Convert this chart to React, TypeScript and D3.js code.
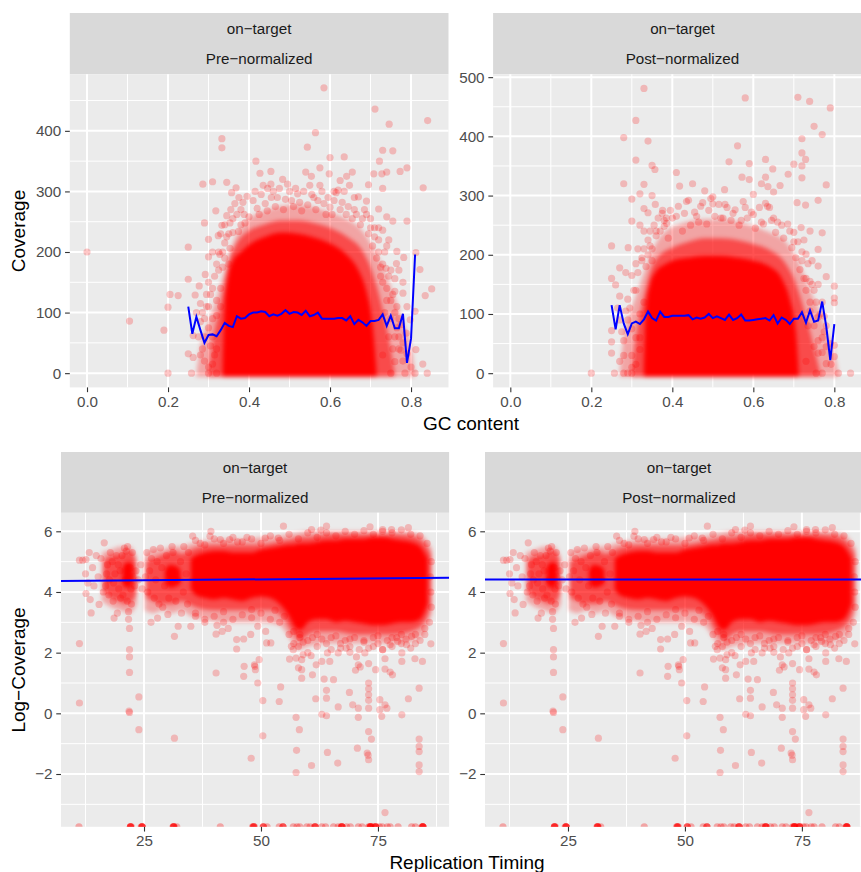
import React, { useEffect, useRef } from 'react';
import * as d3 from 'd3';

// ---------- data ----------

const gcTicks = [0, 0.2, 0.4, 0.6, 0.8];
const gcMinor = [0.1, 0.3, 0.5, 0.7];
const covTicksPre = [0, 100, 200, 300, 400];
const covTicksPost = [0, 100, 200, 300, 400, 500];
const covMinor = [50, 150, 250, 350, 450];
const rtTicks = [25, 50, 75];
const rtMinor = [12.5, 37.5, 62.5, 87.5];
const logTicks = [-2, 0, 2, 4, 6];
const logMinor = [-3, -1, 1, 3, 5];

// binned mean coverage (blue line) per GC bin
const gcBins = [0.25, 0.26, 0.27, 0.28, 0.29, 0.30, 0.31, 0.32, 0.33, 0.34, 0.35, 0.36, 0.37, 0.38, 0.39, 0.40, 0.41, 0.42, 0.43, 0.44, 0.45, 0.46, 0.47, 0.48, 0.49, 0.50, 0.51, 0.52, 0.53, 0.54, 0.55, 0.56, 0.57, 0.58, 0.59, 0.60, 0.61, 0.62, 0.63, 0.64, 0.65, 0.66, 0.67, 0.68, 0.69, 0.70, 0.71, 0.72, 0.73, 0.74, 0.75, 0.76, 0.77, 0.78, 0.79, 0.80, 0.81];
const meanPre = [110, 65, 93, 71, 50, 63, 64, 61, 71, 83, 78, 76, 94, 90, 91, 97, 100, 100, 102, 101, 94, 97, 95, 98, 104, 98, 101, 100, 96, 103, 94, 96, 100, 90, 90, 90, 90, 91, 91, 87, 94, 81, 88, 84, 78, 86, 86, 88, 97, 78, 95, 74, 74, 98, 17, 57, 196];
const meanPost = [115, 74, 115, 84, 66, 84, 87, 83, 91, 104, 93, 89, 104, 95, 95, 97, 97, 97, 97, 98, 91, 94, 92, 94, 100, 93, 96, 93, 90, 99, 90, 93, 99, 89, 89, 90, 91, 92, 93, 89, 98, 84, 94, 90, 83, 92, 92, 103, 85, 106, 87, 89, 121, 79, 22, 83];

// dense (overplotted) region of the GC clouds: upper edges per GC value
const preOuterGc = [0.27, 0.28, 0.30, 0.32, 0.34, 0.36, 0.38, 0.40, 0.44, 0.48, 0.52, 0.56, 0.60, 0.64, 0.68, 0.70, 0.72, 0.74, 0.76, 0.78, 0.80, 0.81];
const preOuterHi = [0, 45, 85, 125, 170, 215, 240, 255, 268, 276, 278, 274, 265, 255, 235, 215, 190, 160, 125, 85, 45, 0];
const preMidGc = [0.30, 0.31, 0.33, 0.35, 0.37, 0.40, 0.44, 0.48, 0.52, 0.56, 0.60, 0.64, 0.68, 0.70, 0.72, 0.74, 0.76];
const preMidHi = [0, 50, 115, 185, 215, 235, 246, 252, 252, 248, 240, 226, 202, 175, 132, 75, 0];
const preCoreGc = [0.335, 0.34, 0.35, 0.36, 0.38, 0.40, 0.44, 0.48, 0.52, 0.56, 0.60, 0.64, 0.67, 0.69, 0.705, 0.715];
const preCoreHi = [0, 110, 165, 185, 200, 212, 225, 232, 230, 224, 214, 196, 170, 135, 80, 0];

const postOuterGc = [0.27, 0.28, 0.30, 0.32, 0.34, 0.36, 0.38, 0.42, 0.48, 0.52, 0.56, 0.60, 0.64, 0.68, 0.70, 0.72, 0.74, 0.76, 0.78, 0.80, 0.81];
const postOuterHi = [0, 60, 110, 150, 190, 220, 238, 252, 260, 260, 256, 248, 238, 222, 202, 175, 140, 110, 72, 35, 0];
const postMidGc = [0.30, 0.31, 0.33, 0.35, 0.37, 0.40, 0.44, 0.48, 0.52, 0.56, 0.60, 0.64, 0.68, 0.70, 0.72, 0.74, 0.765];
const postMidHi = [0, 60, 130, 180, 200, 212, 222, 228, 228, 225, 218, 208, 185, 160, 120, 70, 0];
const postCoreGc = [0.33, 0.335, 0.345, 0.36, 0.38, 0.40, 0.44, 0.48, 0.52, 0.56, 0.60, 0.64, 0.67, 0.69, 0.705, 0.712];
const postCoreHi = [0, 110, 150, 172, 183, 190, 195, 198, 198, 195, 190, 180, 160, 125, 70, 0];

// individual windows around the dense region [gc, coverage]
const prePoints: [number, number][] = [
  [0.0, 200], [0.105, 86], [0.19, 71], [0.2, 0], [0.2, 109], [0.205, 130], [0.225, 128], [0.25, 208], [0.25, 155], [0.25, 32],
  [0.258, 0], [0.262, 62], [0.262, 26], [0.267, 129], [0.277, 144], [0.286, 312], [0.29, 248], [0.292, 163], [0.3, 221], [0.3, 192],
  [0.3, 0], [0.31, 316], [0.318, 268], [0.32, 0], [0.324, 227], [0.333, 387], [0.333, 372], [0.333, 244], [0.328, 196], [0.345, 315],
  [0.357, 298], [0.368, 306], [0.353, 248], [0.353, 206], [0.374, 234], [0.388, 262], [0.417, 350], [0.427, 330], [0.454, 333], [0.446, 305],
  [0.483, 320], [0.454, 312], [0.544, 373], [0.564, 397], [0.585, 471], [0.54, 332], [0.554, 325], [0.575, 339], [0.6, 356], [0.598, 329],
  [0.635, 357], [0.641, 325], [0.655, 332], [0.625, 318], [0.648, 310], [0.61, 300], [0.67, 291], [0.69, 284], [0.711, 436], [0.73, 368],
  [0.722, 350], [0.708, 329], [0.695, 311], [0.728, 329], [0.74, 332], [0.73, 305], [0.755, 367], [0.746, 411], [0.773, 333], [0.79, 339],
  [0.841, 417], [0.83, 306], [0.72, 271], [0.74, 258], [0.755, 251], [0.79, 251], [0.73, 236], [0.745, 220], [0.765, 201], [0.782, 191],
  [0.764, 181], [0.738, 173], [0.812, 199], [0.822, 171], [0.851, 139], [0.835, 128], [0.81, 102], [0.812, 39], [0.829, 15], [0.84, 0],
  [0.81, 0], [0.79, 32], [0.775, 38], [0.76, 19], [0.785, 0], [0.76, 156], [0.78, 132], [0.798, 88], [0.788, 66],
  [0.42, 272], [0.44, 280], [0.47, 290], [0.5, 300], [0.52, 296], [0.55, 310], [0.57, 285], [0.62, 302], [0.63, 282], [0.66, 290],
  [0.46, 300], [0.49, 287], [0.58, 300], [0.6, 274], [0.64, 262], [0.665, 262], [0.4, 258], [0.43, 295], [0.51, 275], [0.53, 268],
  [0.56, 290], [0.59, 262], [0.61, 285], [0.38, 245], [0.36, 232], [0.68, 255], [0.7, 240], [0.71, 225], [0.69, 262],
  [0.27, 100], [0.28, 85], [0.285, 40], [0.29, 20], [0.3, 110], [0.31, 90], [0.31, 140], [0.32, 120], [0.315, 30], [0.325, 170],
  [0.33, 140], [0.3, 150], [0.28, 115], [0.29, 60], [0.305, 45], [0.295, 130], [0.32, 180], [0.335, 200], [0.34, 215], [0.31, 200],
  [0.72, 200], [0.73, 180], [0.74, 140], [0.75, 120], [0.76, 100], [0.77, 60], [0.735, 100], [0.745, 60], [0.755, 40], [0.72, 240],
  [0.75, 170], [0.78, 150], [0.79, 110], [0.77, 90], [0.765, 75], [0.78, 20], [0.8, 10], [0.75, 0], [0.73, 30], [0.76, 135],
  [0.77, 170], [0.725, 160], [0.74, 210],
  [0.33, 230], [0.34, 245], [0.345, 260], [0.35, 230], [0.355, 270], [0.36, 255], [0.365, 280], [0.37, 262], [0.375, 290], [0.38, 270],
  [0.385, 282], [0.39, 248], [0.395, 292], [0.41, 285], [0.415, 300], [0.425, 262], [0.435, 310], [0.445, 268], [0.455, 290], [0.465, 275],
  [0.475, 305], [0.485, 270], [0.495, 312], [0.505, 285], [0.515, 305], [0.525, 282], [0.535, 300], [0.545, 278], [0.555, 295], [0.565, 270],
  [0.575, 310], [0.585, 280], [0.595, 290], [0.605, 262], [0.615, 298], [0.625, 270], [0.635, 300], [0.645, 275], [0.655, 255], [0.66, 270],
  [0.675, 245], [0.685, 270], [0.695, 230], [0.7, 255], [0.705, 210], [0.71, 240], [0.715, 190], [0.72, 220], [0.725, 175], [0.73, 150],
  [0.735, 200], [0.74, 120], [0.745, 160], [0.75, 90], [0.755, 130], [0.76, 60], [0.765, 110], [0.77, 40], [0.775, 80], [0.78, 50],
  [0.29, 90], [0.295, 110], [0.3, 75], [0.305, 130], [0.31, 60], [0.315, 160], [0.32, 95], [0.325, 200], [0.33, 110], [0.335, 175],
  [0.34, 190], [0.345, 225], [0.35, 180], [0.28, 30], [0.275, 60], [0.285, 100], [0.3, 10], [0.31, 15], [0.32, 40],
];

const postPoints: [number, number][] = [
  [0.2, 0], [0.25, 215], [0.25, 160], [0.25, 53], [0.25, 34], [0.25, 72], [0.257, 0], [0.26, 149], [0.27, 178], [0.27, 130],
  [0.28, 0], [0.28, 398], [0.28, 320], [0.291, 212], [0.31, 427], [0.31, 360], [0.32, 303], [0.3, 294], [0.33, 481], [0.33, 319],
  [0.34, 392], [0.35, 351], [0.357, 344], [0.35, 300], [0.33, 278], [0.30, 257], [0.34, 271], [0.358, 285], [0.376, 275], [0.386, 253],
  [0.41, 339], [0.418, 316], [0.45, 320], [0.44, 292], [0.48, 308], [0.5, 298], [0.5, 286], [0.529, 310], [0.54, 357], [0.561, 384],
  [0.58, 465], [0.572, 331], [0.59, 354], [0.59, 327], [0.6, 302], [0.62, 320], [0.63, 361], [0.648, 345], [0.63, 331], [0.636, 315],
  [0.63, 287], [0.65, 306], [0.666, 317], [0.686, 336], [0.7, 353], [0.71, 466], [0.739, 459], [0.72, 396], [0.72, 372], [0.729, 361],
  [0.72, 350], [0.72, 330], [0.708, 288], [0.729, 284], [0.75, 417], [0.77, 403], [0.79, 448], [0.78, 318], [0.76, 292], [0.74, 240],
  [0.77, 237], [0.76, 209], [0.718, 246], [0.73, 201], [0.8, 147], [0.8, 127], [0.8, 119], [0.8, 47], [0.8, 28], [0.792, 15],
  [0.81, 0], [0.84, 0], [0.78, 16], [0.76, 34], [0.775, 96], [0.78, 163], [0.76, 181], [0.74, 155],
  [0.265, 110], [0.27, 90], [0.28, 55], [0.29, 125], [0.3, 165], [0.3, 30], [0.31, 185], [0.31, 140], [0.32, 60], [0.315, 210],
  [0.33, 240], [0.325, 195], [0.29, 0], [0.3, 0], [0.27, 20], [0.285, 170], [0.32, 250],
  [0.4, 262], [0.43, 270], [0.46, 265], [0.49, 275], [0.52, 262], [0.55, 270], [0.57, 258], [0.6, 268], [0.62, 255], [0.65, 262],
  [0.67, 250], [0.69, 240], [0.7, 222], [0.36, 240], [0.38, 258], [0.47, 282], [0.53, 285], [0.58, 280], [0.64, 280],
  [0.72, 190], [0.73, 160], [0.74, 120], [0.75, 140], [0.76, 95], [0.77, 60], [0.735, 80], [0.75, 45], [0.73, 20], [0.77, 120],
  [0.78, 80], [0.79, 50], [0.755, 0], [0.77, 0], [0.725, 225], [0.745, 190], [0.76, 150],
  [0.33, 210], [0.34, 225], [0.345, 240], [0.35, 210], [0.355, 250], [0.36, 232], [0.365, 262], [0.37, 240], [0.375, 270], [0.38, 248],
  [0.385, 262], [0.39, 228], [0.395, 275], [0.41, 265], [0.415, 282], [0.425, 240], [0.435, 290], [0.445, 250], [0.455, 272], [0.465, 255],
  [0.475, 288], [0.485, 252], [0.495, 295], [0.505, 265], [0.515, 285], [0.525, 262], [0.535, 280], [0.545, 258], [0.555, 276], [0.565, 250],
  [0.575, 290], [0.585, 262], [0.595, 272], [0.605, 245], [0.615, 280], [0.625, 252], [0.635, 282], [0.645, 258], [0.655, 238], [0.66, 255],
  [0.675, 228], [0.685, 252], [0.695, 212], [0.7, 238], [0.705, 195], [0.71, 222], [0.715, 175], [0.72, 205], [0.725, 160], [0.73, 140],
  [0.735, 185], [0.74, 105], [0.745, 150], [0.75, 80], [0.755, 120], [0.76, 55], [0.765, 100], [0.77, 35], [0.775, 70], [0.78, 45],
  [0.29, 90], [0.295, 110], [0.3, 75], [0.305, 140], [0.31, 60], [0.315, 170], [0.32, 100], [0.325, 190], [0.33, 120], [0.335, 180],
  [0.34, 200], [0.345, 215], [0.35, 190], [0.28, 30], [0.275, 70], [0.285, 105], [0.3, 10], [0.31, 15], [0.32, 40],
];

// dense band of log-coverage vs replication timing (null = gap)
const coreRt = [20.4, 21, 22, 22.7, 26, 29.5, 30.5, 32, 32.8, 34, 35, 36, 38, 40, 42, 44, 46, 48, 50, 52, 54, 56, 57, 58, 59, 60, 62, 64, 66, 68, 70, 72, 74, 76, 78, 80, 82, 84, 85.6];
const coreLo = [4.3, 4.15, 4.15, 4.3, null, 4.3, 4.15, 4.2, 4.3, null, 4.1, 3.9, 3.8, 3.75, 3.8, 3.75, 3.7, 3.8, 3.85, 3.8, 3.6, 3.2, 2.9, 2.75, 2.8, 3.0, 3.1, 3.1, 3.0, 3.05, 3.0, 2.95, 2.9, 2.9, 2.95, 3.0, 3.0, 3.1, 3.6];
const coreHi = [4.8, 4.95, 5.0, 4.8, null, 4.75, 4.9, 4.85, 4.7, null, 5.1, 5.2, 5.3, 5.35, 5.35, 5.3, 5.3, 5.3, 5.4, 5.45, 5.5, 5.55, 5.55, 5.6, 5.6, 5.6, 5.65, 5.7, 5.7, 5.75, 5.75, 5.75, 5.8, 5.8, 5.75, 5.7, 5.65, 5.5, 5.1];
const midRt = [16.3, 18, 19.5, 21, 22.5, 23.4, 24.5, 25.4, 27, 28.5, 30, 31.5, 33, 34.5, 36, 40, 44, 48, 52, 55, 57, 58.5, 60, 62, 66, 70, 74, 78, 82, 85, 86.4];
const midLo = [4.1, 3.8, 3.7, 3.6, 3.7, 4.0, null, 3.8, 3.7, 3.6, 3.6, 3.6, 3.7, 3.6, 3.5, 3.4, 3.4, 3.4, 3.4, 3.1, 2.6, 2.4, 2.6, 2.7, 2.7, 2.6, 2.6, 2.6, 2.7, 3.0, 3.6];
const midHi = [5.0, 5.2, 5.2, 5.35, 5.3, 4.9, null, 5.0, 5.1, 5.2, 5.3, 5.35, 5.25, 5.35, 5.45, 5.55, 5.55, 5.55, 5.6, 5.7, 5.75, 5.8, 5.8, 5.85, 5.9, 5.9, 5.9, 5.9, 5.85, 5.6, 5.2];
const outerRt = [16, 18, 20, 22, 23.5, 24.4, 25.2, 27, 29, 31, 33, 35, 38, 42, 46, 50, 54, 56, 58, 60, 64, 68, 72, 76, 80, 84, 86.6];
const outerLo = [3.7, 3.5, 3.4, 3.3, 3.6, null, 3.4, 3.3, 3.4, 3.3, 3.4, 3.2, 3.1, 3.0, 3.0, 3.0, 2.9, 2.5, 2.1, 2.2, 2.3, 2.3, 2.3, 2.3, 2.3, 2.5, 3.3];
const outerHi = [5.3, 5.4, 5.5, 5.5, 5.1, null, 5.2, 5.4, 5.4, 5.5, 5.5, 5.6, 5.7, 5.75, 5.75, 5.8, 5.85, 5.9, 5.95, 6.0, 6.0, 6.0, 6.0, 6.0, 6.0, 5.9, 5.4];

// individual windows [replication timing, log coverage]
const rtPoints: [number, number][] = [
  [11.2, 2.3], [11.2, 0.34], [11.2, 5.05], [11.9, 5.05], [12.6, 5.07], [12.6, 3.95], [13.5, 3.75], [13.7, 3.31], [12.5, 4.6], [13, 4.3],
  [13.3, 5.3], [14, 4.8], [14.3, 4.2], [14.8, 5.2], [15.4, 3.59], [15.2, 4.5], [15.8, 5.1], [16.5, 5.62], [16.3, 4.0], [17, 4.6],
  [17.5, 3.9], [17.8, 5.3], [18.6, 3.14], [18.5, 4.3], [19.3, 3.3], [19.5, 4.9], [20, 3.8], [21.7, 3.35], [21.7, 3.1], [21.5, 5.5],
  [20.8, 5.45], [22.3, 3.6], [22.5, 5.3], [23, 4.2], [23.3, 4.7], [23.8, 4.4], [24.3, 4.9], [24.6, 4.1], [25.3, 4.5], [25.6, 5.3],
  [26.5, 3.0], [27.9, 3.14], [30.1, 3.26], [27, 5.4], [28.5, 5.45], [29, 3.5], [31, 5.5], [32.3, 2.87], [33, 3.3], [33.5, 5.5],
  [35, 2.87], [35.4, 5.84], [36, 3.2], [37, 5.6], [38, 3.1], [39.1, 5.84], [39.3, 6.0], [40.4, 2.61], [40.6, 2.9], [41.3, 5.73],
  [41.7, 2.7], [43.3, 5.73], [42, 3.0], [43, 2.8], [44.8, 2.43], [44.8, 2.12], [46.3, 2.45], [47.8, 2.6], [45, 5.65], [47, 5.8],
  [48, 3.42], [49.3, 2.87],
  [21.9, 2.8], [21.9, 2.1], [21.9, 1.86], [21.9, 1.35], [21.9, 0.03], [21.8, 0.07], [23.9, 0.54], [23.9, -0.54], [31.5, 2.54], [31.5, -0.82],
  [40.4, 1.33], [46.4, 1.55], [46.3, 1.22], [48.6, 1.6], [48.8, 1.44], [49.3, 1.0], [47.9, -1.48], [50.4, 0.42], [50.4, -0.74],
  [54.8, 6.17], [64.0, 6.17], [73.3, 6.15], [81.5, 6.12], [76.0, 6.06], [77.9, 6.06], [60.8, 6.06], [62.8, 6.04], [50.9, 5.78], [53.7, 5.78],
  [49.6, 1.77], [48.7, 1.55], [54.2, 0.87], [53.9, 0.39], [57.5, -0.13], [58.2, -0.54], [57.6, -1.22], [57.5, -1.95], [60.8, -1.72], [64.2, -1.29],
  [66.4, -1.64], [64.0, -0.08], [63.0, -0.03], [64.0, 0.5], [64.0, 0.76], [61.7, 0.48], [63.5, 1.13], [65.5, 1.11], [66.5, 0.21], [68.9, 0.69],
  [69.6, 0.28], [70.8, 0.17], [70.8, -0.13], [70.6, -1.15], [73.0, 1.0], [73.0, 0.81], [73.0, 0.61], [73.0, 0.43], [73.0, 0.17], [73.0, -0.6],
  [73.6, -0.85], [72.7, -1.31], [73.0, -1.53], [72.9, -1.38], [75.4, 0.45], [75.4, 0.12], [75.8, -0.1], [76.5, 0.28], [76.9, 0.17], [76.5, -3.27],
  [80.1, -0.05], [81.5, 0.48], [83.8, 0.83], [83.8, -0.85], [83.8, -1.09], [83.8, -1.26], [83.8, -1.7], [83.8, -1.92], [86.3, 2.29], [84.5, 1.71],
  [82.9, 1.8], [78.1, 1.27], [77.6, 1.36], [76.5, 1.46], [76.5, 1.8], [74.5, 1.44], [73.0, 1.64], [71.2, 1.53], [70.2, 1.42], [61.0, 1.27],
  [58.7, 1.16], [58.7, 1.44], [58.0, 1.5], [58.7, 1.77], [57.5, 1.82], [56.1, 1.79], [56.9, 2.1], [59.0, 1.93], [60.7, 1.9], [61.8, 1.6],
  [63.0, 1.71], [64.7, 1.71], [64.2, 1.99], [66.5, 1.99], [68.2, 2.15], [69.0, 2.01], [70.4, 1.86], [70.8, 1.6], [72.2, 1.99], [76.0, 2.1],
  [77.6, 2.26], [79.2, 2.37], [81.1, 2.26], [82.2, 2.54], [80.1, 1.99], [80.1, 1.71], [51.0, 2.7], [52.1, 2.32], [51.2, 2.32], [58.3, 2.6],
  [58.3, 2.5], [56.5, 2.21],
  [60, 2.4], [62, 2.6], [65, 2.5], [67, 2.3], [69, 2.45], [72, 2.4], [74, 2.2], [75, 2.55], [78, 2.5], [80, 2.6],
  [83, 2.3], [85, 2.6], [86, 3.0], [86.4, 3.5], [86.3, 4.0], [86.2, 4.5], [86.4, 5.0], [55, 3.2], [53, 3.4], [57, 2.7],
  [36, 5.7], [38, 5.55], [40, 5.75], [42, 5.6], [44, 5.8], [46, 5.65], [48, 5.75], [50, 5.6], [52, 5.85], [54, 5.7],
  [56, 5.9], [58, 5.75], [60, 5.95], [62, 5.8], [64, 5.95], [66, 5.85], [68, 6.0], [70, 5.9], [72, 6.02], [74, 5.9],
  [76, 6.0], [78, 5.95], [80, 6.05], [82, 5.9], [84, 5.85], [85.5, 5.6],
  [36, 3.3], [38, 3.0], [40, 3.2], [42, 3.35], [44, 3.1], [46, 3.25], [48, 3.15], [50, 3.3], [52, 3.1], [54, 3.0],
  [56, 2.6], [57, 2.3], [58, 2.2], [59, 2.35], [60, 2.0], [61, 2.5], [62, 2.2], [63, 2.45], [64, 2.3], [65, 2.1],
  [66, 2.55], [67, 2.15], [68, 2.4], [69, 2.2], [70, 2.5], [71, 2.1], [72, 2.35], [73, 2.15], [74, 2.5], [75, 2.3],
  [76, 2.1], [77, 2.4], [78, 2.2], [79, 2.5], [80, 2.3], [81, 2.45], [82, 2.15], [83, 2.6], [84, 2.4], [85, 2.8],
  [16.8, 4.2], [17.2, 4.9], [17.6, 4.4], [18.2, 5.0], [18.4, 3.7], [18.8, 4.6], [19.1, 5.2], [19.6, 4.1], [19.9, 4.7], [20.3, 5.2],
  [20.5, 3.9], [21, 4.4], [21.2, 5.35], [21.4, 3.7], [22, 4.8], [22.2, 4.1], [22.6, 4.5], [25.8, 4.0], [26.2, 4.7], [26.6, 5.1],
  [27.2, 3.8], [27.5, 4.4], [27.8, 5.0], [28.2, 3.6], [28.8, 4.8], [29.4, 4.2], [29.8, 5.2], [30.3, 3.8], [30.6, 4.6], [31.2, 5.3],
  [31.8, 3.7], [32.2, 4.4], [32.8, 5.0], [33.4, 4.0], [34, 4.6], [34.5, 5.3], [34.3, 3.6],
];

// windows with zero coverage (log = -Inf), drawn on the lower panel edge
const rtNegInf = [11.1, 22.1, 22.1, 22.1, 22.1, 22.3, 24.4, 24.6, 24.6, 24.6, 24.6, 31.2, 31.3, 31.3, 31.4, 31.4, 32, 41.3, 48.2, 48.4,
  48.4, 48.4, 48.6, 50.5, 50.5, 50.5, 51.3, 53.9, 54.7, 54.7, 54.7, 56.9, 57.7, 58.3, 59.8, 60.5, 61.4, 61.6, 61.6, 61.6,
  63, 63.8, 65.5, 66.5, 67.1, 67.3, 67.3, 67.3, 67.3, 68.3, 69.1, 70.8, 71.6, 73.0, 73.2, 73.4, 73.4, 73.4, 73.4, 73.6,
  74, 74.5, 74.5, 74.5, 74.5, 75.3, 75.9, 77, 77.6, 79.3, 82.2, 83, 84.4, 84.6, 84.6, 84.6, 84.6, 84.6];

// linear fits of log-coverage on replication timing
const fitPre = { intercept: 4.357, slope: 0.0012 };
const fitPost = { intercept: 4.41, slope: 0 };

// ---------- drawing ----------

const FONT = "'Liberation Sans', Arial, Helvetica, sans-serif";
const RED = '#FF0000';
const R = 3.6;

type Panel = {
	id: string; left: number; right: number; top: number; bottom: number; stripTop: number;
	xDomain: number[]; yDomain: number[]; xTicks: number[]; xMinor: number[]; yTicks: number[]; yMinor: number[];
	xFormat: (d: any) => string; strip: string[];
};

const drawPanel = (svg: any, p: Panel) => {
	const x = d3.scaleLinear().domain(p.xDomain).range([p.left, p.right]);
	const y = d3.scaleLinear().domain(p.yDomain).range([p.bottom, p.top]);

	// strip
	svg.append('rect')
		.attr('x', p.left).attr('y', p.stripTop)
		.attr('width', p.right - p.left).attr('height', p.top - p.stripTop)
		.attr('fill', '#D9D9D9');
	const rowH = (p.top - p.stripTop) / p.strip.length;
	p.strip.forEach((s, i) => {
		svg.append('text')
			.attr('x', (p.left + p.right) / 2)
			.attr('y', p.stripTop + rowH * (i + 0.5))
			.attr('dy', '0.36em')
			.attr('text-anchor', 'middle')
			.style('font-family', FONT).style('font-size', '15.2px').style('fill', '#1A1A1A')
			.text(s);
	});

	// background + grid
	svg.append('rect')
		.attr('x', p.left).attr('y', p.top)
		.attr('width', p.right - p.left).attr('height', p.bottom - p.top)
		.attr('fill', '#EBEBEB');
	const grid = svg.append('g').attr('stroke', '#FFFFFF');
	p.xMinor.forEach(v => grid.append('line').attr('x1', x(v)).attr('x2', x(v)).attr('y1', p.top).attr('y2', p.bottom).attr('stroke-width', 1));
	p.yMinor.forEach(v => grid.append('line').attr('y1', y(v)).attr('y2', y(v)).attr('x1', p.left).attr('x2', p.right).attr('stroke-width', 1));
	p.xTicks.forEach(v => grid.append('line').attr('x1', x(v)).attr('x2', x(v)).attr('y1', p.top).attr('y2', p.bottom).attr('stroke-width', 2));
	p.yTicks.forEach(v => grid.append('line').attr('y1', y(v)).attr('y2', y(v)).attr('x1', p.left).attr('x2', p.right).attr('stroke-width', 2));

	svg.append('clipPath').attr('id', p.id)
		.append('rect')
		.attr('x', p.left).attr('y', p.top)
		.attr('width', p.right - p.left).attr('height', p.bottom - p.top);

	// axes
	const styleAxis = (g: any) => {
		g.select('.domain').remove();
		g.attr('font-family', FONT).attr('font-size', 15.2);
		g.selectAll('.tick line').attr('stroke', '#333333').attr('stroke-width', 1.1);
		g.selectAll('.tick text').attr('fill', '#4D4D4D');
	};
	svg.append('g')
		.attr('transform', `translate(0,${p.bottom})`)
		.call(d3.axisBottom(x).tickValues(p.xTicks).tickSize(4.75).tickPadding(3.8).tickFormat(p.xFormat))
		.call(styleAxis);
	svg.append('g')
		.attr('transform', `translate(${p.left},0)`)
		.call(d3.axisLeft(y).tickValues(p.yTicks).tickSize(4.75).tickPadding(3.8).tickFormat(d3.format('d')))
		.call(styleAxis);

	const g = svg.append('g').attr('clip-path', `url(#${p.id})`);
	return { x, y, g };
};

const drawGcPanel = (svg: any, p: Panel, bands: [number[], number[], number][], points: [number, number][], mean: number[]) => {
	const { x, y, g } = drawPanel(svg, p);
	const dense = g.append('g').attr('filter', 'url(#soft)');
	bands.forEach(([gc, hi, op]) => {
		const area = d3.area<number>()
			.x((d, i) => x(gc[i]))
			.y0(() => y(0) + R)
			.y1(d => y(d))
			.curve(d3.curveMonotoneX);
		dense.append('path').attr('d', area(hi)).attr('fill', RED).attr('fill-opacity', op);
	});
	g.selectAll('circle.pt').data(points).enter().append('circle')
		.attr('cx', (d: [number, number]) => x(d[0]))
		.attr('cy', (d: [number, number]) => y(d[1]))
		.attr('r', R).attr('fill', RED).attr('fill-opacity', 0.22);
	const line = d3.line<number>()
		.x((d, i) => x(gcBins[i]))
		.y(d => y(d));
	g.append('path').attr('d', line(mean)).attr('fill', 'none').attr('stroke', '#0000FF').attr('stroke-width', 2);
};

const drawRtPanel = (svg: any, p: Panel, fit: { intercept: number; slope: number }) => {
	const { x, y, g } = drawPanel(svg, p);
	const bands: [number[], (number | null)[], (number | null)[], number][] = [
		[outerRt, outerLo, outerHi, 0.3],
		[midRt, midLo, midHi, 0.55],
		[coreRt, coreLo, coreHi, 1],
	];
	const dense = g.append('g').attr('filter', 'url(#soft)');
	bands.forEach(([rt, lo, hi, op]) => {
		const idx = rt.map((_, i) => i);
		const area = d3.area<number>()
			.defined(i => lo[i] != null)
			.x(i => x(rt[i]))
			.y0(i => y(lo[i] as number))
			.y1(i => y(hi[i] as number))
			.curve(d3.curveMonotoneX);
		dense.append('path').attr('d', area(idx)).attr('fill', RED).attr('fill-opacity', op);
	});
	g.selectAll('circle.pt').data(rtPoints).enter().append('circle')
		.attr('cx', (d: [number, number]) => x(d[0]))
		.attr('cy', (d: [number, number]) => y(d[1]))
		.attr('r', R).attr('fill', RED).attr('fill-opacity', 0.22);
	g.selectAll('circle.inf').data(rtNegInf).enter().append('circle')
		.attr('cx', (d: number) => x(d))
		.attr('cy', p.bottom)
		.attr('r', R).attr('fill', RED).attr('fill-opacity', 0.3);
	const line = d3.line<number>()
		.x(d => x(d))
		.y(d => y(fit.intercept + fit.slope * d));
	g.append('path').attr('d', line(p.xDomain)).attr('fill', 'none').attr('stroke', '#0000FF').attr('stroke-width', 2);
};

export default function App() {
	const ref = useRef<SVGSVGElement>(null);

	useEffect(() => {
		const svg = d3.select(ref.current);
		svg.selectAll('*').remove();

		svg.append('defs').append('filter').attr('id', 'soft')
			.attr('x', '-5%').attr('y', '-5%').attr('width', '110%').attr('height', '110%')
			.append('feGaussianBlur').attr('stdDeviation', 2.2);

		const topCommon = {
			top: 74.2, bottom: 387.4, stripTop: 13,
			xDomain: [-0.0425, 0.8925], xTicks: gcTicks, xMinor: gcMinor, yMinor: covMinor,
			xFormat: d3.format('.1f'),
		};
		drawGcPanel(svg, {
			...topCommon, id: 'clip-gc-pre', left: 69.8, right: 448.5,
			yDomain: [-23.5, 493.5], yTicks: covTicksPre, strip: ['on\u2212target', 'Pre\u2212normalized'],
		}, [[preOuterGc, preOuterHi, 0.3], [preMidGc, preMidHi, 0.55], [preCoreGc, preCoreHi, 1]], prePoints, meanPre);
		drawGcPanel(svg, {
			...topCommon, id: 'clip-gc-post', left: 493.1, right: 871.8,
			yDomain: [-24, 505], yTicks: covTicksPost, strip: ['on\u2212target', 'Post\u2212normalized'],
		}, [[postOuterGc, postOuterHi, 0.3], [postMidGc, postMidHi, 0.55], [postCoreGc, postCoreHi, 1]], postPoints, meanPost);

		const bottomCommon = {
			top: 512.8, bottom: 826.8, stripTop: 452,
			xDomain: [7.26, 90.2], yDomain: [-3.74, 6.61], xTicks: rtTicks, xMinor: rtMinor,
			yTicks: logTicks, yMinor: logMinor, xFormat: d3.format('d'),
		};
		drawRtPanel(svg, {
			...bottomCommon, id: 'clip-rt-pre', left: 61, right: 449.1,
			strip: ['on\u2212target', 'Pre\u2212normalized'],
		}, fitPre);
		drawRtPanel(svg, {
			...bottomCommon, id: 'clip-rt-post', left: 485, right: 873,
			strip: ['on\u2212target', 'Post\u2212normalized'],
		}, fitPost);

		// axis titles
		const title = (txt: string, x: number, y: number, rotate: boolean) => {
			svg.append('text')
				.attr('transform', rotate ? `translate(${x},${y}) rotate(-90)` : `translate(${x},${y})`)
				.attr('text-anchor', 'middle')
				.style('font-family', FONT).style('font-size', '19px').style('fill', '#000000')
				.text(txt);
		};
		title('GC content', 471, 430, false);
		title('Coverage', 25, 231, true);
		title('Replication Timing', 467, 868.5, false);
		title('Log\u2212Coverage', 25, 670, true);
	}, []);

	return (
		<div style={{ position: 'absolute', left: 0, top: 0 }}>
			<svg ref={ref} width={861} height={872} style={{ display: 'block', background: '#FFFFFF' }} />
		</div>
	);
}
